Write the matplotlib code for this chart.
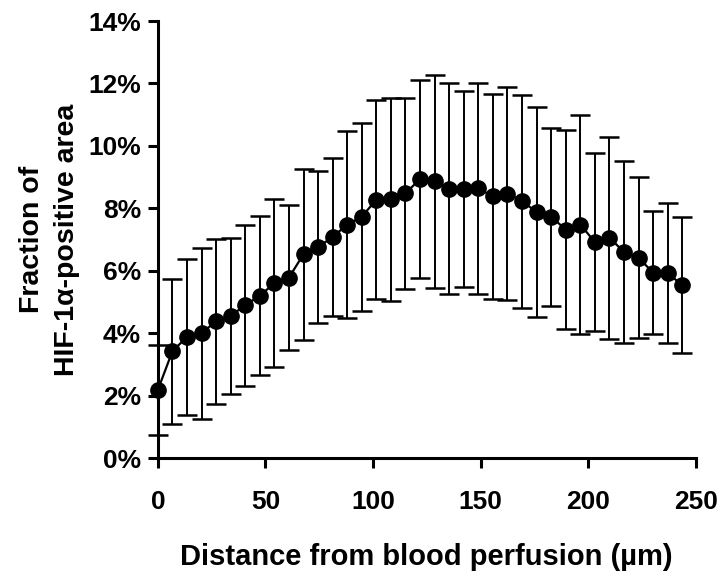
import numpy as np
import matplotlib
matplotlib.use("Agg")
import matplotlib.pyplot as plt
from matplotlib.ticker import FuncFormatter

# distance bins (um) and HIF-1a positive fraction (%), mean and SD
step = 6.77
distance = np.arange(37) * step
mean_pct = [2.18, 3.42, 3.88, 4.0, 4.38, 4.55, 4.9, 5.2, 5.6, 5.78, 6.53, 6.76, 7.08,
            7.48, 7.73, 8.28, 8.29, 8.48, 8.94, 8.86, 8.62, 8.62, 8.64, 8.38, 8.47, 8.23,
            7.88, 7.73, 7.32, 7.48, 6.92, 7.06, 6.6, 6.41, 5.94, 5.92, 5.54]
sd_pct = [1.43, 2.32, 2.5, 2.74, 2.65, 2.49, 2.58, 2.54, 2.69, 2.33, 2.74, 2.42, 2.53,
          3.01, 3.01, 3.2, 3.26, 3.06, 3.18, 3.42, 3.38, 3.14, 3.39, 3.29, 3.41, 3.41,
          3.37, 2.85, 3.18, 3.51, 2.86, 3.24, 2.9, 2.58, 1.97, 2.25, 2.17]

xticks = [0, 50, 100, 150, 200, 250]
yticks = [0, 2, 4, 6, 8, 10, 12, 14]

plt.rcParams['font.family'] = ['Liberation Sans', 'DejaVu Sans']
plt.rcParams['font.weight'] = 'bold'

fig = plt.figure(figsize=(7.24, 5.78), dpi=100)
ax = fig.add_axes([0.218, 0.2076, 0.743, 0.756])

ax.errorbar(distance, mean_pct, yerr=sd_pct, fmt='-o', color='black',
            ecolor='black', elinewidth=1.4, capsize=7, capthick=1.8,
            markersize=11, linewidth=1.6, clip_on=False, zorder=3)

ax.set_xlim(0, 250)
ax.set_ylim(0, 14)
ax.set_xticks(xticks)
ax.set_yticks(yticks)
ax.yaxis.set_major_formatter(FuncFormatter(lambda v, p: f'{v:.0f}%'))

for s in ['top', 'right']:
    ax.spines[s].set_visible(False)
for s in ['left', 'bottom']:
    ax.spines[s].set_linewidth(2.2)
ax.tick_params(direction='out', length=7, width=2.2, labelsize=19)
ax.tick_params(axis='x', pad=16)
ax.tick_params(axis='y', pad=5)
for lab in ax.get_xticklabels() + ax.get_yticklabels():
    lab.set_fontweight('bold')

ax.set_xlabel('Distance from blood perfusion (µm)', fontsize=21, fontweight='bold',
              labelpad=21)
ax.set_ylabel('Fraction of\nHIF-1α-positive area', fontsize=20.5, fontweight='bold',
              labelpad=6, linespacing=1.45)

fig.savefig('out.png', dpi=100)
